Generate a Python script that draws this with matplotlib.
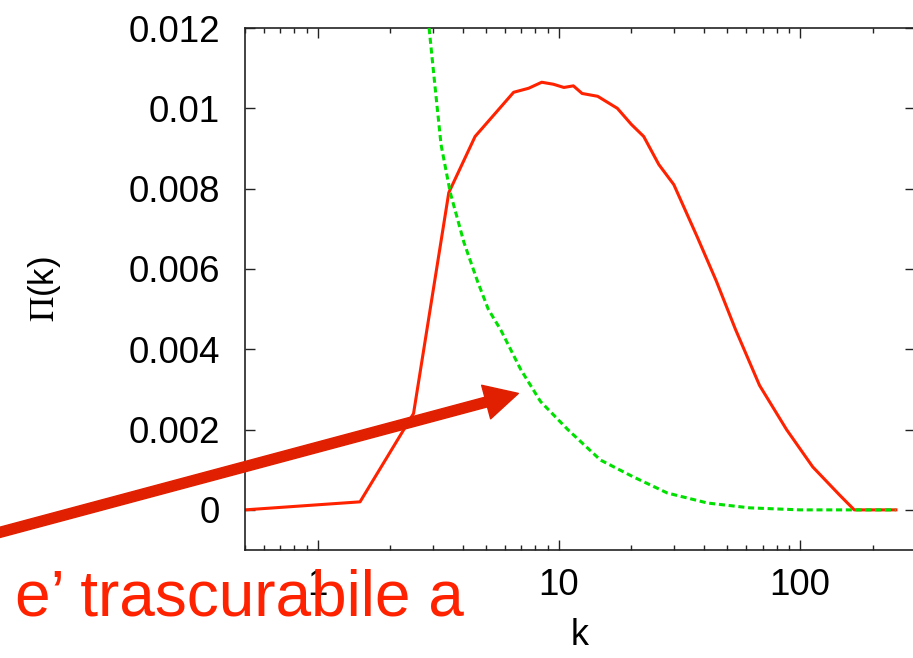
import numpy as np
import matplotlib
matplotlib.use("Agg")
import matplotlib.pyplot as plt
from matplotlib.ticker import FixedLocator, FuncFormatter, LogLocator, NullFormatter

plt.rcParams["font.family"] = ["Liberation Sans", "DejaVu Sans"]
plt.rcParams["mathtext.fontset"] = "stix"

# ---------------------------------------------------------------------------
# Dati
# ---------------------------------------------------------------------------
k_rosso = [0.5, 1.5, 2.5, 3.5, 4.5, 5.5, 6.5, 7.5, 8.5, 9.5, 10.5, 11.5, 12.5,
           14.5, 17.5, 20, 22.5, 26, 30, 37.5, 45, 54, 68, 88, 113, 146, 168, 250]
pi_rosso = [0.0, 0.0002, 0.0024, 0.0079, 0.0093, 0.0099, 0.0104, 0.0105,
            0.01065, 0.0106, 0.01052, 0.01056, 0.01037, 0.0103, 0.0100,
            0.0096, 0.0093, 0.0086, 0.0081, 0.0068, 0.0057, 0.0045, 0.0031,
            0.0020, 0.00107, 0.00037, 0.0, 0.0]

k_verde = [2.9, 3.05, 3.25, 3.55, 4.05, 4.6, 5.1, 5.75, 6.95, 8.4, 10.9,
           14.9, 20.4, 28.2, 41.4, 62, 100, 250]
pi_verde = [0.0120, 0.0107, 0.0091, 0.0079, 0.00665, 0.0057, 0.0050, 0.00448,
            0.0035, 0.0027, 0.0020, 0.00124, 0.00082, 0.00042, 0.00017,
            0.00005, 0.0, 0.0]

Y_TICKS = [0, 0.002, 0.004, 0.006, 0.008, 0.01, 0.012]
X_TICKS = [1, 10, 100]

TESTO = "e\u2019 trascurabile a"

# ---------------------------------------------------------------------------
# Figura
# ---------------------------------------------------------------------------
fig = plt.figure(figsize=(9.13, 6.58), dpi=100)
ax = fig.add_axes([0.2683, 0.1641, 0.7339, 0.7933])

ax.plot(k_rosso, pi_rosso, color="#ff2200", lw=2.2, zorder=2)
ax.plot(k_verde, pi_verde, color="#00e000", lw=2.2, ls=(0, (2, 1.2)), zorder=3)

ax.set_xscale("log")
ax.set_xlim(0.5, 300)
ax.set_ylim(-0.001, 0.012)

ax.xaxis.set_major_locator(FixedLocator(X_TICKS))
ax.xaxis.set_major_formatter(FuncFormatter(lambda v, p: f"{v:g}"))
ax.xaxis.set_minor_locator(LogLocator(base=10, subs=np.arange(2, 10)))
ax.xaxis.set_minor_formatter(NullFormatter())
ax.yaxis.set_major_locator(FixedLocator(Y_TICKS))
ax.yaxis.set_major_formatter(FuncFormatter(lambda v, p: f"{v:g}"))

ax.tick_params(which="both", direction="in", top=True, right=True,
               labelsize=26.5, width=1.0, color="#222222")
ax.tick_params(which="major", length=7)
ax.tick_params(which="minor", length=3.5)
ax.tick_params(axis="y", pad=18)
ax.tick_params(axis="x", pad=13)
for sp in ax.spines.values():
    sp.set_linewidth(1.2)
    sp.set_color("#222222")

ax.set_xlabel("k", fontsize=26, labelpad=11)
ax.set_ylabel(r"$\Pi$(k)", fontsize=25, labelpad=47)

# freccia e testo rossi (annotazione)
ax.annotate("", xy=(6.8, 0.0029), xycoords="data",
            xytext=(-10, 123), textcoords="figure pixels",
            arrowprops=dict(width=7.2, headwidth=25, headlength=24, shrink=0,
                            facecolor="#e02000", edgecolor="#e02000"),
            annotation_clip=False, zorder=4)
ax.text(15, 43, TESTO, transform=None, fontsize=46, color="#ff2200",
        ha="left", va="baseline", zorder=2, clip_on=False)

fig.savefig("out.png", dpi=100)
